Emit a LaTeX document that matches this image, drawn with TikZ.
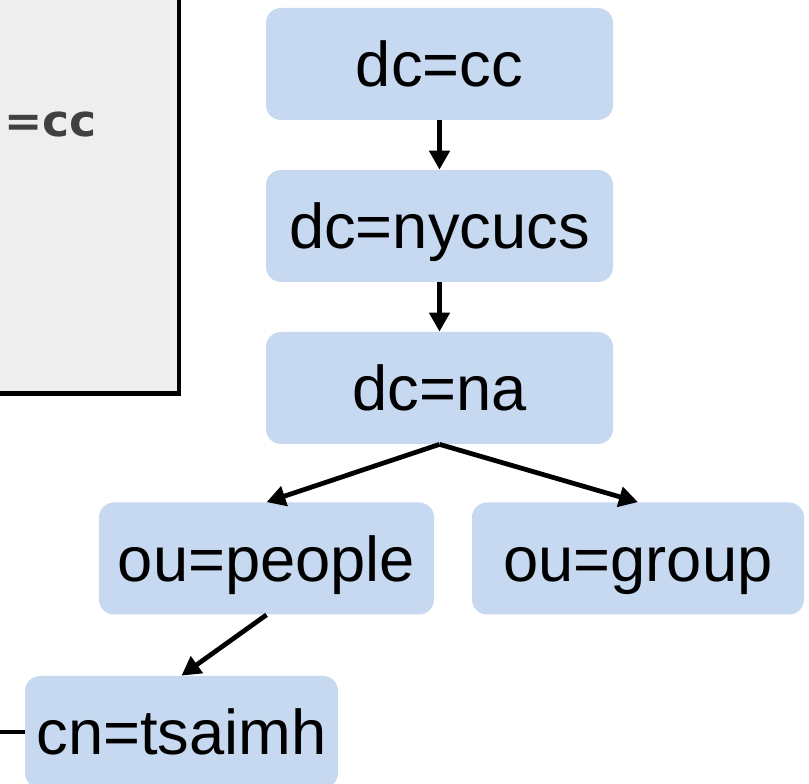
\documentclass[tikz,border=0pt]{standalone}
\usepackage{fontspec}
\setmainfont{Liberation Sans}
\newfontfamily\panelfont{DejaVu Sans}
\usetikzlibrary{arrows.meta}
\definecolor{ldapblue}{HTML}{C6D9F0}
\definecolor{panelgray}{HTML}{EEEEEE}
\definecolor{panelink}{HTML}{404040}

\begin{document}
\begin{tikzpicture}[
  every node/.style={font=\fontsize{36}{40}\selectfont},
  entry/.style={rectangle, rounded corners=0.3cm, minimum height=2.24cm, inner sep=0pt, text height=25.8pt, text depth=0pt, fill=ldapblue, align=center},
  link/.style={line width=0.095cm, -{Triangle[length=0.38cm, width=0.4cm]}},
]
\useasboundingbox (0,0) rectangle (16.18,-15.68);
% left panel, cut by the page edge
\node[draw, line width=0.09cm, fill=panelgray, minimum width=4cm, minimum height=8.5cm, inner sep=0pt, anchor=south east] (panel) at (3.62,-7.92) {};
\node[anchor=east, inner sep=0pt, xscale=1.04, font=\panelfont\bfseries\fontsize{25}{28}\selectfont, text=panelink] (panelbase) at (1.94,-2.50) {=cc};

\node[entry, minimum width=6.94cm] (cc) at (8.79,-1.28) {dc=cc};
\node[entry, minimum width=6.94cm] (nycucs) at (8.79,-4.52) {dc=nycucs};
\node[entry, minimum width=6.94cm] (na) at (8.79,-7.76) {dc=na};
\node[entry, minimum width=6.70cm] (people) at (5.33,-11.17) {ou=people};
\node[entry, minimum width=6.64cm] (group) at (12.76,-11.17) {ou=group};
\node[entry, minimum width=6.26cm] (tsaimh) at (3.63,-14.64) {cn=tsaimh};

\draw[link] (cc) -- (nycucs);
\draw[link] (nycucs) -- (na);
\draw[link] (na.south) -- (people.north);
\draw[link] (na.south) -- (group.north);
\draw[link] (people.south) -- (tsaimh.north);
% line coming in from off the page
\coordinate (offpage) at (0,-14.64);
\draw[line width=0.095cm] (offpage) -- (tsaimh.west);
\end{tikzpicture}
\end{document}
